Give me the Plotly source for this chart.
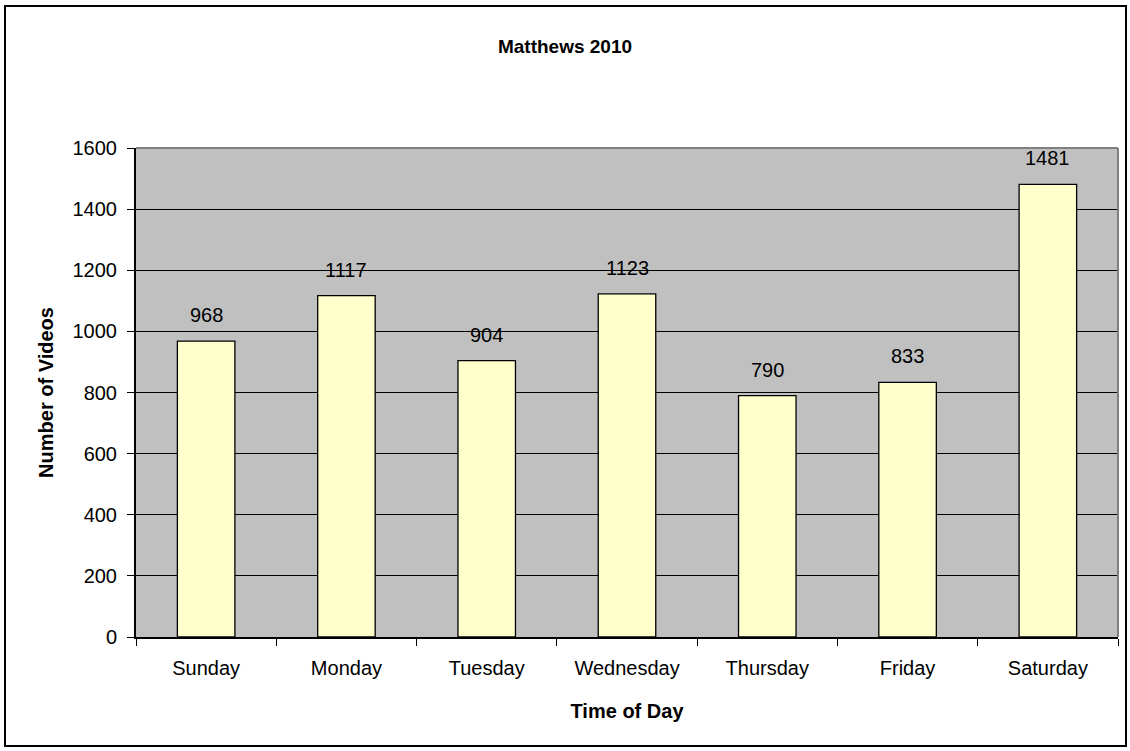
import plotly.graph_objects as go

days = ["Sunday", "Monday", "Tuesday", "Wednesday", "Thursday", "Friday", "Saturday"]
videos = [968, 1117, 904, 1123, 790, 833, 1481]
y_ticks = [0, 200, 400, 600, 800, 1000, 1200, 1400, 1600]

W, H = 1130, 751
L, R, T, B = 136, 12, 148, 114
pw, ph = W - L - R, H - T - B

def px_x(p):
    return (p - L) / pw

def px_y(p):
    return (H - B - p) / ph

FONT = "Liberation Sans, Arial, sans-serif"

fig = go.Figure()
fig.add_trace(go.Bar(
    x=days, y=videos,
    marker=dict(color="#FFFFCC", line=dict(color="black", width=1.3)),
    width=0.41,
    hoverinfo="x+y",
))

for d, v in zip(days, videos):
    fig.add_annotation(x=d, y=v, text=str(v), showarrow=False,
                       yanchor="bottom", yshift=13,
                       font=dict(family=FONT, size=20, color="black"))

# outer border
fig.add_shape(type="rect", xref="paper", yref="paper",
              x0=px_x(5), x1=px_x(1126), y0=px_y(746), y1=px_y(6),
              line=dict(color="black", width=2), layer="below")
# gray top/right plot border
fig.add_shape(type="line", xref="paper", yref="paper", x0=0, x1=1, y0=1, y1=1,
              line=dict(color="#808080", width=2))
fig.add_shape(type="line", xref="paper", yref="paper", x0=1, x1=1, y0=0, y1=1,
              line=dict(color="#808080", width=2))

fig.update_layout(
    width=W, height=H,
    margin=dict(l=L, r=R, t=T, b=B),
    paper_bgcolor="white",
    plot_bgcolor="#C0C0C0",
    showlegend=False,
    font=dict(family=FONT, size=20, color="black"),
    title=dict(text="<b>Matthews 2010</b>", x=0.5, xanchor="center",
               y=1 - 46 / H, yanchor="middle",
               font=dict(family=FONT, size=19, color="black")),
    xaxis=dict(
        type="category",
        showline=True, linecolor="black", linewidth=2,
        ticks="outside", tickson="boundaries", ticklen=7, tickcolor="black",
        showgrid=False,
        ticklabelstandoff=12,
        title=dict(text="<b>Time of Day</b>", standoff=26,
                   font=dict(family=FONT, size=20)),
        tickfont=dict(family=FONT, size=20),
    ),
    yaxis=dict(
        range=[0, 1600],
        tickvals=y_ticks,
        showline=True, linecolor="black", linewidth=2,
        ticks="outside", ticklen=7, tickcolor="black",
        showgrid=True, gridcolor="black", gridwidth=1.3,
        zeroline=False,
        ticklabelstandoff=6,
        title=dict(text="<b>Number of Videos</b>", standoff=14,
                   font=dict(family=FONT, size=20)),
        tickfont=dict(family=FONT, size=20),
    ),
)

fig.write_html("out.html", config={"displayModeBar": False},
               post_script="document.body.style.margin='0';")
